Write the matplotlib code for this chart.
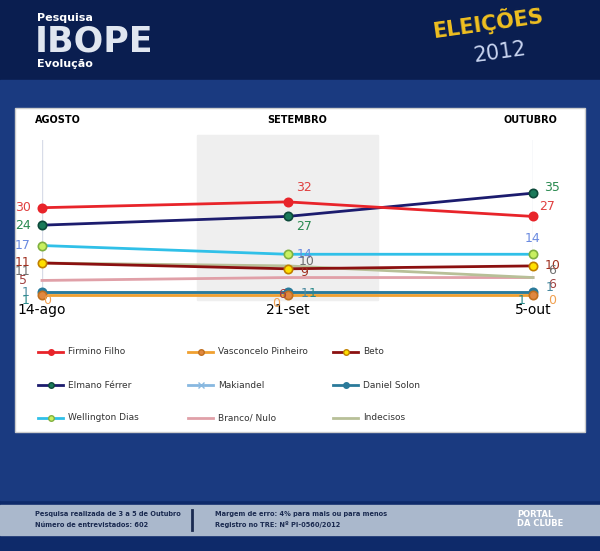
import matplotlib
matplotlib.use("Agg")
import matplotlib.pyplot as plt
from matplotlib.patches import Rectangle
import numpy as np

dates = ["14-ago", "21-set", "5-out"]
months = ["AGOSTO", "SETEMBRO", "OUTUBRO"]
names = ["Firmino Filho", "Vasconcelo Pinheiro", "Beto", "Elmano Férrer", "Makiandel",
         "Daniel Solon", "Wellington Dias", "Branco/ Nulo", "Indecisos"]
firmino = [30, 32, 27]
vasconcelo = [0, 0, 0]
beto = [11, 9, 10]
elmano = [24, 27, 35]
makiandel = [1, 1, 1]
daniel = [1, 1, 1]
wellington = [17, 14, 14]
branco = [5, 6, 6]
indecisos = [11, 10, 6]
series = [firmino, vasconcelo, beto, elmano, makiandel, daniel, wellington, branco, indecisos]
line_c = ["#e8242a", "#f0a030", "#8b1010", "#1c1c6e", "#88b8e0", "#2a7a9a", "#30c0e8", "#e0a0a8", "#b8c098"]
mk_face = ["#e8242a", "#e08840", "#ffe000", "#1a7a5a", "#88b8e0", "#2a7a9a", "#c8f060", "#e0a0a8", "#b8c098"]
mk_edge = ["#e8242a", "#c07020", "#c08000", "#0d4a3a", "#88b8e0", "#2a7a9a", "#80b040", "#e0a0a8", "#b8c098"]
markers = ["o", "o", "o", "o", "x", "o", "o", None, None]
lbl_c = ["#e04040", "#f0a050", "#a03020", "#2a8a50", "#4a8aa0", "#2a8a8a", "#6a8ae0", "#a04040", "#707070"]

W, H = 600, 551
fig = plt.figure(figsize=(6, 5.51), dpi=100)
fig.patch.set_facecolor("#0e2a6a")
bg = fig.add_axes([0, 0, 1, 1]); bg.set_xlim(0, W); bg.set_ylim(H, 0); bg.axis("off")
bg.add_patch(Rectangle((0, 0), W, 80, color="#0a1e50"))
bg.add_patch(Rectangle((0, 80), W, 420, color="#1a3a80"))
bg.add_patch(Rectangle((0, 505), W, 30, color="#aab8cc"))
bg.add_patch(Rectangle((15, 108), 570, 324, facecolor="white", edgecolor="#cccccc"))
bg.add_patch(Rectangle((197, 135), 181, 165, color="#efefef"))
bg.text(37, 18, "Pesquisa", color="white", fontsize=8, fontweight="bold", va="center")
bg.text(35, 42, "IBOPE", color="#e0e6f0", fontsize=25, fontweight="bold", va="center")
bg.text(37, 64, "Evolução", color="white", fontsize=8, fontweight="bold", va="center")
bg.text(488, 22, "ELEIÇÕES", color="#f0c020", fontsize=15, fontweight="bold", va="center", ha="center", rotation=8)
bg.text(500, 52, "2012", color="#c8d4f0", fontsize=15, va="center", ha="center", rotation=8)
bg.text(35, 514, "Pesquisa realizada de 3 a 5 de Outubro", fontsize=4.8, color="#1a2a50", va="center", fontweight="bold")
bg.text(35, 525, "Número de entrevistados: 602", fontsize=4.8, color="#1a2a50", va="center", fontweight="bold")
bg.plot([192, 192], [510, 530], color="#1a2a50", lw=2)
bg.text(215, 514, "Margem de erro: 4% para mais ou para menos", fontsize=4.8, color="#1a2a50", va="center", fontweight="bold")
bg.text(215, 525, "Registro no TRE: Nº PI-0560/2012", fontsize=4.8, color="#1a2a50", va="center", fontweight="bold")
bg.text(517, 519, "PORTAL\nDA CLUBE", fontsize=6, color="white", va="center", fontweight="bold", linespacing=0.9)
for xm, m, ha in zip([35, 297, 557], months, ["left", "center", "right"]):
    bg.text(xm, 120, m, fontsize=7, fontweight="bold", ha=ha, va="center")

top, bot = 140, 300
ax = fig.add_axes([42 / W, 1 - bot / H, (533 - 42) / W, (bot - top) / H])
ax.patch.set_alpha(0)
ax.set_xlim(0, 2)
ax.set_ylim((295 - bot) / 2.91, (295 - top) / 2.91)
for s in ax.spines.values():
    s.set_visible(False)
ax.set_yticks([])
ax.set_xticks(range(3)); ax.set_xticklabels(dates, fontsize=10)
ax.tick_params(length=0, pad=2)
ax.axvline(0, color="#d8dce8", lw=1); ax.axvline(2, color="#d8dce8", lw=1)
order = [7, 8, 4, 5, 1, 2, 6, 3, 0]
for i in order:
    ax.plot(range(3), series[i], color=line_c[i], lw=2, marker=markers[i], ms=6 if markers[i] == "o" else 5,
            mfc=mk_face[i], mec=mk_edge[i], mew=1.2, clip_on=False, zorder=3)
offs = {0: [(-14, 0), (12, 10), (10, 7)], 3: [(-14, 0), (12, -7), (14, 4)],
        6: [(-14, 0), (12, 0), (0, 11)], 2: [(-14, 0), (12, -3), (14, 0)],
        8: [(-14, -6), (14, 3), (14, 5)], 7: [(-14, 0), (-4, -12), (14, -5)],
        4: [(-12, 0), (12, -1), (12, 3)], 5: [(-12, -6), (18, -1), (-8, -6)],
        1: [(4, -4), (-8, -6), (14, -4)]}
for i, lst in offs.items():
    for j, (dx, dy) in enumerate(lst):
        ax.annotate(str(series[i][j]), (j, series[i][j]), xytext=(dx, dy), textcoords="offset points",
                    ha="center", va="center", fontsize=9, color=lbl_c[i], annotation_clip=False, zorder=5)

cols = [38, 188, 333]
rows = [352, 385, 418]
for k, nm in enumerate(names):
    x0, y0 = cols[k % 3], rows[k // 3]
    bg.plot([x0, x0 + 25], [y0, y0], color=line_c[k], lw=2)
    if markers[k]:
        bg.plot([x0 + 12.5], [y0], marker=markers[k], ms=4, mfc=mk_face[k], mec=mk_edge[k])
    bg.text(x0 + 30, y0, nm, fontsize=6.5, va="center", color="#333333")

fig.savefig("out.png", dpi=100, facecolor=fig.get_facecolor())
